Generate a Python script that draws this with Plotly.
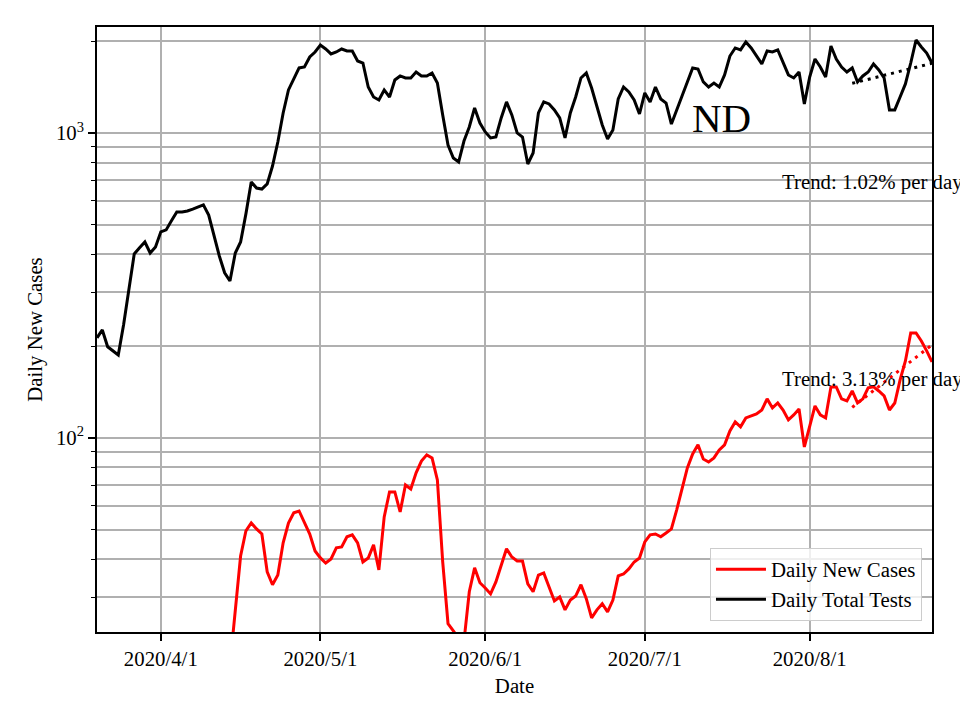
import pandas as pd
import plotly.graph_objects as go

# ---------------- data ----------------
start_date = "2020-03-20"
n_days = 158

daily_total_tests = [
    213, 226, 199, 193, 187, 235, 306, 401, 420, 439,
    404, 423, 474, 481, 515, 551, 551, 555, 563, 572,
    581, 538, 456, 395, 348, 327, 404, 439, 543, 691,
    660, 655, 681, 779, 934, 1163, 1384, 1503, 1634, 1646,
    1775, 1843, 1943, 1885, 1816, 1843, 1885, 1857, 1857, 1722,
    1696, 1415, 1312, 1283, 1384, 1312, 1492, 1538, 1515, 1515,
    1585, 1538, 1538, 1573, 1458, 1146, 913, 828, 803, 941,
    1046, 1208, 1078, 1008, 963, 970, 1120, 1264, 1146, 1000,
    970, 791, 860, 1163, 1264, 1245, 1190, 1120, 963, 1163,
    1312, 1515, 1573, 1404, 1217, 1062, 956, 1023, 1293, 1415,
    1363, 1283, 1154, 1353, 1264, 1415, 1293, 1254, 1070, 1181,
    1322, 1470, 1634, 1621, 1470, 1415, 1458, 1415, 1550, 1788,
    1900, 1872, 1988, 1900, 1788, 1684, 1857, 1843, 1872, 1696,
    1550, 1515, 1585, 1245, 1526, 1748, 1646, 1526, 1928, 1748,
    1646, 1585, 1634, 1470, 1538, 1585, 1684, 1609, 1515, 1190,
    1190, 1312, 1448, 1696, 2018, 1914, 1829, 1696,
]

daily_new_cases = [
    3, 4, 2, 5, 6, 4, 7, 8, 6, 9,
    10, 8, 11, 9, 12, 13, 11, 14, 12, 15,
    13, 16, 14, 15, 16, 18.0, 26.9, 41.0, 49.6, 52.6,
    50.3, 48.4, 36.4, 33.0, 35.5, 45.3, 52.6, 56.8, 57.6, 53.0,
    48.4, 42.6, 40.4, 38.9, 40.1, 43.6, 43.9, 47.4, 48.1, 45.3,
    39.2, 40.4, 44.6, 36.9, 55.1, 66.5, 66.5, 57.2, 70.1, 68.0,
    76.8, 84.0, 88.0, 86.0, 72.8, 39.2, 24.6, 23.3, 22.0, 21.5,
    31.3, 37.5, 33.5, 32.2, 30.8, 33.7, 38.3, 43.3, 40.7, 39.5,
    39.5, 33.2, 31.3, 35.5, 36.1, 32.7, 29.2, 30.1, 27.3, 29.4,
    30.3, 33.0, 29.7, 25.7, 27.3, 28.6, 26.9, 29.4, 35.3, 35.8,
    37.2, 39.2, 40.4, 45.6, 48.1, 48.4, 47.4, 48.8, 50.3, 58.1,
    68.0, 79.7, 88.6, 94.9, 85.3, 83.4, 86.0, 91.3, 94.9, 105.4,
    112.8, 108.7, 116.3, 118.1, 119.9, 123.5, 134.3, 125.4, 130.2, 123.5,
    114.6, 119.0, 124.5, 93.4, 110.3, 127.3, 119.0, 116.3, 147.0, 147.0,
    134.3, 132.2, 142.6, 130.2, 134.3, 145.9, 147.0, 142.6, 137.3, 123.5,
    130.2, 155.0, 178.8, 221.0, 221.0, 208.0, 192.9, 177.5,
]

trend_dates = ["2020-08-09", "2020-08-24"]
trend_tests = [1455, 1692]
trend_cases = [126, 202]

tick_dates = ["2020-04-01", "2020-05-01", "2020-06-01", "2020-07-01", "2020-08-01"]
tick_labels = ["2020/4/1", "2020/5/1", "2020/6/1", "2020/7/1", "2020/8/1"]

y_major_vals = [100, 1000]
y_major_text = ["10<sup>2</sup>", "10<sup>3</sup>"]
y_minor_vals = [20, 30, 40, 50, 60, 70, 80, 90, 200, 300, 400, 500, 600, 700, 800, 900, 2000]

trend_text_tests = "Trend: 1.02% per day"
trend_text_cases = "Trend: 3.13% per day"
state_label = "ND"

# ---------------- figure ----------------
dates = pd.date_range(start_date, periods=n_days, freq="D")

FONT = "Liberation Serif, Times New Roman, serif"
FS = 20.8
GRID = "#b0b0b0"

fig = go.Figure()

fig.add_trace(go.Scatter(
    x=dates, y=daily_new_cases, mode="lines", name="Daily New Cases",
    line=dict(color="#ff0000", width=3),
))
fig.add_trace(go.Scatter(
    x=dates, y=daily_total_tests, mode="lines", name="Daily Total Tests",
    line=dict(color="#000000", width=3),
))
fig.add_trace(go.Scatter(
    x=trend_dates, y=trend_tests, mode="lines", showlegend=False,
    line=dict(color="#000000", width=3, dash="3px,5px"),
))
fig.add_trace(go.Scatter(
    x=trend_dates, y=trend_cases, mode="lines", showlegend=False,
    line=dict(color="#ff0000", width=3, dash="3px,5px"),
))

fig.add_annotation(x="2020-07-09 12:00", y=3.05, yref="y", text=state_label,
                   showarrow=False, xanchor="left", yanchor="middle",
                   font=dict(family=FONT, size=41, color="black"))
fig.add_annotation(x="2020-07-26 12:00", y=2.839, text=trend_text_tests,
                   showarrow=False, xanchor="left", yanchor="middle",
                   font=dict(family=FONT, size=FS, color="black"))
fig.add_annotation(x="2020-07-26 12:00", y=2.193, text=trend_text_cases,
                   showarrow=False, xanchor="left", yanchor="middle",
                   font=dict(family=FONT, size=FS, color="black"))

fig.update_layout(
    width=960, height=720,
    margin=dict(l=97, r=28, t=27, b=88),
    paper_bgcolor="white", plot_bgcolor="white",
    font=dict(family=FONT, size=FS, color="black"),
    legend=dict(x=0.988, y=0.018, xanchor="right", yanchor="bottom",
                bgcolor="rgba(255,255,255,0.8)", bordercolor="#cccccc",
                borderwidth=1, itemwidth=50, font=dict(family=FONT, size=FS)),
    xaxis=dict(
        type="date", range=["2020-03-20", "2020-08-24"],
        tickmode="array", tickvals=tick_dates, ticktext=tick_labels,
        showgrid=True, gridcolor=GRID, gridwidth=1.6,
        ticks="outside", ticklen=7, tickwidth=1.6, tickcolor="black",
        showline=True, linecolor="black", linewidth=1.6, mirror=True,
        zeroline=False,
        title=dict(text="Date", font=dict(family=FONT, size=FS), standoff=10),
    ),
    yaxis=dict(
        type="log", range=[1.3636, 3.3475],
        tickmode="array", tickvals=y_major_vals, ticktext=y_major_text,
        showgrid=True, gridcolor=GRID, gridwidth=1.6,
        ticks="outside", ticklen=7, tickwidth=1.6, tickcolor="black",
        showline=True, linecolor="black", linewidth=1.6, mirror=True,
        zeroline=False,
        minor=dict(tickmode="array", tickvals=y_minor_vals, ticks="outside",
                   ticklen=4, tickwidth=1.2, tickcolor="black",
                   showgrid=True, gridcolor=GRID, gridwidth=1.6),
        title=dict(text="Daily New Cases", font=dict(family=FONT, size=FS), standoff=8),
    ),
)

fig.write_html("out.html", config={"displayModeBar": False},
               post_script="document.body.style.margin='0';")
